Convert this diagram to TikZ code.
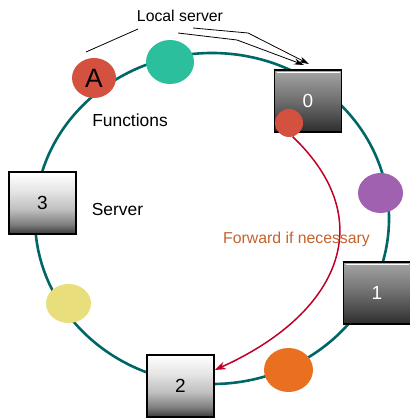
\documentclass[tikz,border=0pt]{standalone}
\usepackage{fontspec}
\setmainfont{Liberation Sans}
\usetikzlibrary{arrows.meta,shapes.geometric}
\definecolor{ringc}{RGB}{0,102,102}
\definecolor{fwdc}{RGB}{192,0,38}
\definecolor{fwdtxt}{RGB}{196,98,45}
\definecolor{redc}{RGB}{212,81,63}
\definecolor{tealc}{RGB}{43,191,157}
\definecolor{purplec}{RGB}{160,97,176}
\definecolor{orangec}{RGB}{232,112,32}
\definecolor{yellowc}{RGB}{232,223,124}
\pgfdeclareverticalshading{lightboxsh}{100bp}{color(0bp)=(black!80); color(25bp)=(black!78); color(33bp)=(black!50); color(45bp)=(black!25); color(60bp)=(black!10); color(75bp)=(white); color(100bp)=(white)}
\pgfdeclareverticalshading{darkboxsh}{100bp}{color(0bp)=(black!85); color(25bp)=(black!82); color(50bp)=(black!57); color(75bp)=(black!35); color(100bp)=(black!35)}
\tikzset{
  ring/.style={draw=ringc, line width=2.6pt},
  srvbox/.style={rectangle, draw=black, line width=1.8pt, minimum width=67pt, minimum height=62pt, inner sep=0pt,
    path picture={\draw[white,line width=0.8pt] ([xshift=2pt,yshift=-2.2pt]path picture bounding box.north west) -- ([xshift=-2pt,yshift=-2.2pt]path picture bounding box.north east);}},
  lightbox/.style={srvbox, shading=lightboxsh, text=black, font=\fontsize{19}{22}\selectfont},
  darkbox/.style={srvbox, shading=darkboxsh, text=white, font=\fontsize{19}{22}\selectfont},
  fn/.style={ellipse, draw=none, inner sep=0pt},
  lbl/.style={font=\fontsize{15.8}{18}\selectfont, anchor=base},
  lblb/.style={font=\fontsize{17.4}{20}\selectfont, anchor=base},
  leader/.style={draw=black, line width=0.8pt},
  fwd/.style={draw=fwdc, line width=1.5pt, -{Stealth[length=11pt,width=8pt]}},
}
\begin{document}
\begin{tikzpicture}[x=1pt,y=-1pt]
\useasboundingbox (0,0) rectangle (409,419);
% ring
\draw[ring] (212,218.5) ellipse [x radius=177, y radius=165.5];
% servers
\node[darkbox] (s0) at (308,101) {0};
\node[darkbox] (s1) at (377,293) {1};
\node[lightbox] (s2) at (180.5,386) {2};
\node[lightbox] (s3) at (42.5,203) {3};
% functions
\node[fn, fill=redc, minimum width=44pt, minimum height=40pt, font=\fontsize{26.5}{30}\selectfont] (fa) at (94,78) {A};
\node[fn, fill=tealc, minimum width=48pt, minimum height=44pt] (ft) at (170,62) {};
\node[fn, fill=purplec, minimum width=45pt, minimum height=40pt] (fp) at (380.5,193) {};
\node[fn, fill=orangec, minimum width=49pt, minimum height=44pt] (fo) at (288.5,370) {};
\node[fn, fill=yellowc, minimum width=45pt, minimum height=39pt] (fy) at (68.5,303.5) {};
\node[circle, fill=redc, minimum size=28pt, inner sep=0pt] (r0) at (289,123) {};
% forward arrow
\draw[fwd] (r0.-75) .. controls (382,222) and (337,315) .. (s2.25);
\node[lblb, text=fwdtxt, font=\fontsize{15.8}{18}\selectfont] (fw) at (296.5,243.3) {Forward if necessary};
% labels
\node[lbl] (ls) at (180,21.7) {Local server};
\node[lblb] (fl) at (130,127) {Functions};
\node[lblb] (sl) at (117.5,215.7) {Server};
% leader lines
\coordinate (l0a) at (138,29);
\coordinate (l0b) at (86,52);
\coordinate (l1a) at (178,33);
\coordinate (l1b) at (237,40);
\coordinate (l1c) at (304,65);
\coordinate (l2a) at (193,28);
\coordinate (l2b) at (248,33);
\coordinate (l2c) at (309,64);
\draw[leader] (l0a) -- (l0b);
\draw[leader, -{Stealth[length=10pt,width=6pt]}] (l1a) -- (l1b) -- (l1c);
\draw[leader, -{Stealth[length=10pt,width=6pt]}] (l2a) -- (l2b) -- (l2c);
\end{tikzpicture}
\end{document}
